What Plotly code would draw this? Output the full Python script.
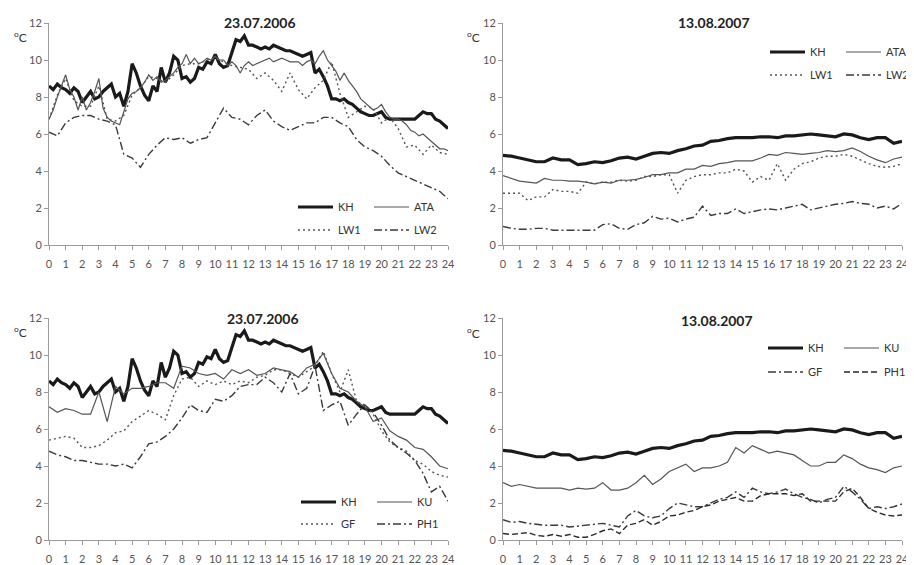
import plotly.graph_objects as go

HOURS = [0, 0.5, 1, 1.5, 2, 2.5, 3, 3.5, 4, 4.5, 5, 5.5, 6, 6.5, 7, 7.5, 8, 8.5, 9, 9.5,
         10, 10.5, 11, 11.5, 12, 12.5, 13, 13.5, 14, 14.5, 15, 15.5, 16, 16.5, 17, 17.5,
         18, 18.5, 19, 19.5, 20, 20.5, 21, 21.5, 22, 22.5, 23, 23.5, 24]
HOURS_Q = [i / 4 for i in range(97)]  # quarter-hour sampling for the most jagged records
TICKS = list(range(25))

# 23.07.2006 (quarter-hour)
KH_0723 = [8.6, 8.4, 8.7, 8.5, 8.4, 8.2, 8.5, 8.3, 7.7, 8.0, 8.3, 7.9, 8.0, 8.3, 8.5, 8.7,
           8.0, 8.2, 7.5, 8.3, 9.8, 9.3, 8.6, 8.1, 7.8, 8.6, 8.3, 9.6, 8.8, 9.3, 10.2, 10.0,
           9.0, 9.1, 8.8, 9.0, 9.6, 9.5, 9.9, 9.8, 10.3, 9.8, 9.6, 9.7, 10.4, 11.1, 11.0, 11.3,
           10.8, 10.8, 10.7, 10.6, 10.7, 10.6, 10.8, 10.7, 10.6, 10.5, 10.5, 10.4, 10.3, 10.2, 10.3, 10.4,
           9.3, 9.5, 9.1, 8.6, 7.9, 7.9, 7.8, 7.9, 7.7, 7.6, 7.4, 7.2, 7.1, 7.0, 7.0, 7.1,
           7.2, 6.9, 6.8, 6.8, 6.8, 6.8, 6.8, 6.8, 6.8, 7.0, 7.2, 7.1, 7.1, 6.8, 6.7, 6.5, 6.3]
ATA_0723 = [6.8, 7.3, 8.0, 8.6, 9.2, 8.4, 8.0, 7.3, 8.0, 7.3, 7.7, 8.3, 9.0, 7.4, 6.9, 6.7,
            6.6, 6.5, 7.2, 7.9, 8.2, 8.3, 8.5, 8.8, 9.2, 8.9, 9.1, 8.8, 8.9, 9.1, 9.3, 9.6,
            9.8, 10.3, 9.8, 10.1, 9.8, 9.9, 10.1, 10.0, 10.2, 10.0, 10.0, 9.7, 9.9, 9.7, 9.3, 9.7,
            9.9, 9.7, 9.8, 9.9, 10.0, 10.1, 9.9, 10.0, 10.1, 10.0, 9.9, 9.9, 9.9, 9.7, 9.9, 10.0,
            9.8, 10.2, 10.5, 10.0, 9.7, 9.4, 8.9, 9.3, 8.9, 8.6, 8.3, 7.9, 7.7, 7.5, 7.3, 7.4,
            7.6, 7.2, 6.9, 6.8, 6.8, 6.7, 6.5, 6.2, 6.1, 5.9, 6.0, 5.8, 5.6, 5.4, 5.2, 5.2, 5.1]
# 23.07.2006 (half-hour)
LW1_0723 = [6.8, 8.1, 9.0, 7.8, 7.5, 7.5, 8.6, 6.8, 6.7, 7.0, 8.1, 8.5, 9.1, 9.0, 8.8, 9.2, 9.7, 9.8, 9.8, 10.0,
            10.1, 9.9, 9.7, 9.6, 9.5, 9.0, 9.3, 8.9, 8.3, 9.3, 8.4, 7.9, 8.5, 8.9, 9.9, 8.2,
            6.9, 7.2, 7.5, 7.4, 6.6, 6.9, 6.3, 5.3, 5.4, 4.9, 5.4, 5.0, 4.9]
LW2_0723 = [6.1, 5.9, 6.6, 6.9, 7.0, 7.0, 6.8, 6.7, 6.5, 4.9, 4.7, 4.2, 4.9, 5.4, 5.8, 5.7, 5.8, 5.5, 5.7, 5.8,
            6.6, 7.4, 6.9, 6.8, 6.5, 7.0, 7.3, 6.7, 6.4, 6.2, 6.4, 6.6, 6.6, 6.9, 6.9, 6.6,
            6.4, 5.7, 5.3, 5.1, 4.8, 4.3, 3.9, 3.7, 3.5, 3.3, 3.1, 2.9, 2.5]
KU_0723 = [7.2, 6.9, 7.1, 7.0, 6.8, 6.8, 8.0, 6.4, 8.3, 7.9, 8.2, 8.2, 8.3, 8.5, 8.5, 8.2, 9.4, 9.3, 9.0, 8.9,
           9.0, 8.7, 9.2, 9.0, 9.2, 8.9, 9.0, 9.3, 9.2, 9.1, 8.8, 9.3, 9.5, 10.1, 9.0, 8.2,
           8.0, 7.5, 7.2, 6.4, 6.6, 5.9, 5.6, 5.4, 5.0, 4.9, 4.5, 4.0, 3.85]
GF_0723 = [5.4, 5.5, 5.6, 5.5, 5.0, 5.0, 5.1, 5.4, 5.8, 5.9, 6.4, 6.7, 7.0, 6.8, 6.5, 7.8, 8.7, 8.8, 8.3, 8.6,
           8.4, 8.6, 8.4, 8.6, 8.5, 8.8, 8.9, 9.2, 9.2, 9.0, 8.8, 9.1, 9.4, 10.2, 9.0, 8.0,
           9.2, 7.5, 7.3, 6.8, 5.9, 5.3, 5.0, 4.8, 4.3, 4.1, 3.7, 3.5, 3.4]
PH1_0723 = [4.8, 4.6, 4.5, 4.3, 4.3, 4.2, 4.1, 4.1, 4.0, 4.1, 3.9, 4.5, 5.2, 5.3, 5.6, 6.0, 6.6, 7.3, 7.0, 6.9,
            7.6, 7.5, 7.8, 8.3, 8.4, 8.4, 8.8, 8.5, 8.0, 9.0, 7.9, 8.2, 9.4, 7.0, 7.3, 7.5,
            6.2, 6.8, 7.3, 6.9, 6.2, 5.4, 5.0, 4.7, 4.3, 3.6, 2.6, 2.9, 2.1]

# 13.08.2007 (half-hour)
KH_0813 = [4.85, 4.8, 4.7, 4.6, 4.5, 4.5, 4.7, 4.6, 4.6, 4.35, 4.4, 4.5, 4.45, 4.55, 4.7, 4.75, 4.65, 4.8, 4.95, 5.0,
           4.95, 5.1, 5.2, 5.35, 5.4, 5.6, 5.65, 5.75, 5.8, 5.8, 5.8, 5.85, 5.85, 5.8, 5.9, 5.9,
           5.95, 6.0, 5.95, 5.9, 5.85, 6.0, 5.95, 5.8, 5.7, 5.8, 5.8, 5.5, 5.6]
ATA_0813 = [3.75, 3.6, 3.45, 3.4, 3.35, 3.6, 3.5, 3.5, 3.45, 3.45, 3.4, 3.3, 3.4, 3.35, 3.5, 3.5, 3.55, 3.65, 3.8, 3.8,
            3.9, 3.9, 4.1, 4.1, 4.3, 4.25, 4.4, 4.45, 4.55, 4.55, 4.55, 4.7, 4.9, 4.85, 5.0, 4.95,
            4.9, 4.95, 5.0, 5.1, 5.05, 5.1, 5.25, 5.05, 4.8, 4.6, 4.45, 4.65, 4.75]
LW1_0813 = [2.8, 2.8, 2.8, 2.4, 2.6, 2.6, 3.0, 2.9, 2.9, 2.8, 3.4, 3.3, 3.4, 3.4, 3.5, 3.45, 3.5, 3.7, 3.7, 3.8,
            3.8, 2.8, 3.5, 3.7, 3.8, 3.8, 3.9, 3.9, 4.1, 4.0, 3.4, 3.7, 3.5, 4.4, 3.5, 4.1,
            4.4, 4.5, 4.7, 4.8, 4.8, 4.9, 4.8, 4.6, 4.4, 4.25, 4.2, 4.25, 4.4]
LW2_0813 = [1.0, 0.9, 0.85, 0.85, 0.9, 0.9, 0.8, 0.8, 0.8, 0.8, 0.8, 0.8, 1.1, 1.15, 0.9, 0.85, 1.1, 1.2, 1.55, 1.4,
            1.45, 1.25, 1.4, 1.5, 2.1, 1.6, 1.7, 1.7, 1.95, 1.7, 1.8, 1.9, 1.95, 1.9, 2.0, 2.1,
            2.2, 1.9, 2.0, 2.1, 2.2, 2.25, 2.35, 2.25, 2.2, 2.0, 2.1, 1.95, 2.25]
KU_0813 = [3.1, 2.9, 3.0, 2.9, 2.8, 2.8, 2.8, 2.8, 2.7, 2.8, 2.75, 2.8, 3.1, 2.7, 2.7, 2.8, 3.1, 3.5, 3.0, 3.3,
           3.7, 3.9, 4.1, 3.7, 3.9, 3.9, 4.0, 4.2, 5.0, 4.7, 5.1, 4.9, 4.7, 4.8, 4.7, 4.6,
           4.3, 4.0, 4.0, 4.2, 4.2, 4.6, 4.4, 4.1, 3.9, 3.8, 3.65, 3.9, 4.0]
GF_0813 = [1.1, 0.95, 1.0, 0.9, 0.85, 0.8, 0.8, 0.8, 0.7, 0.75, 0.8, 0.85, 0.9, 0.8, 0.7, 1.3, 1.6, 1.3, 1.2, 1.3,
           1.7, 2.0, 1.9, 1.8, 1.8, 2.0, 2.2, 2.3, 2.6, 2.3, 2.8, 2.6, 2.5, 2.6, 2.75, 2.5,
           2.3, 2.2, 2.0, 2.2, 2.3, 2.9, 2.6, 2.2, 1.7, 1.8, 1.7, 1.8, 1.95]
PH1_0813 = [0.35, 0.3, 0.35, 0.4, 0.25, 0.2, 0.3, 0.2, 0.3, 0.15, 0.15, 0.3, 0.5, 0.6, 0.35, 0.8, 0.9, 1.1, 0.8, 1.0,
            1.3, 1.35, 1.5, 1.6, 1.8, 1.9, 2.1, 2.2, 2.3, 2.1, 2.1, 2.4, 2.5, 2.5, 2.5, 2.4,
            2.5, 2.1, 2.1, 2.1, 2.1, 2.6, 2.8, 2.3, 1.7, 1.5, 1.35, 1.3, 1.35]

TITLES = ["23.07.2006", "13.08.2007", "23.07.2006", "13.08.2007"]

FONT = "Lato, 'Open Sans', sans-serif"
# the page body has an 8px margin, so the figure is drawn 8px in from the window corner
OFF = 8
W, H = 914 - OFF, 565 - OFF


def fx(px):
    return (px - OFF) / W


def fy(py):
    return 1 - (py - OFF) / H


STY = {
    "thick": dict(color="#1a1a1a", width=3.2),
    "thin": dict(color="#555555", width=1.2),
    "dot": dict(color="#555555", width=1.4, dash="2px,3px"),
    "dashdot": dict(color="#3a3a3a", width=1.4, dash="8px,3px,2px,3px"),
    "dash": dict(color="#2a2a2a", width=1.4, dash="6px,3px"),
}

panels = [
    ("x", "y", [("KH", HOURS_Q, KH_0723, "thick"), ("ATA", HOURS_Q, ATA_0723, "thin"),
                ("LW1", HOURS, LW1_0723, "dot"), ("LW2", HOURS, LW2_0723, "dashdot")], (207, 230), 293),
    ("x2", "y2", [("KH", HOURS, KH_0813, "thick"), ("ATA", HOURS, ATA_0813, "thin"),
                  ("LW1", HOURS, LW1_0813, "dot"), ("LW2", HOURS, LW2_0813, "dashdot")], (52, 75), 765),
    ("x3", "y3", [("KH", HOURS_Q, KH_0723, "thick"), ("KU", HOURS, KU_0723, "thin"),
                  ("GF", HOURS, GF_0723, "dot"), ("PH1", HOURS, PH1_0723, "dashdot")], (502, 524), 296),
    ("x4", "y4", [("KH", HOURS, KH_0813, "thick"), ("KU", HOURS, KU_0813, "thin"),
                  ("GF", HOURS, GF_0813, "dashdot"), ("PH1", HOURS, PH1_0813, "dash")], (348, 372), 763),
]

fig = go.Figure()
layout_legends = {}
lg = 1
for xa, ya, series, rows, lx in panels:
    for i, (name, hrs, data, st) in enumerate(series):
        row = i // 2
        legname = "legend" if (lg + row) == 1 else f"legend{lg + row}"
        fig.add_trace(go.Scatter(x=hrs, y=data, mode="lines", name=name,
                                 line=STY[st], xaxis=xa, yaxis=ya,
                                 legend=legname, showlegend=True))
    for r in range(2):
        key = "legend" if (lg + r) == 1 else f"legend{lg + r}"
        layout_legends[key] = dict(
            x=fx(lx), y=fy(rows[r]), xanchor="left", yanchor="middle",
            orientation="h", bgcolor="rgba(0,0,0,0)", borderwidth=0,
            font=dict(family=FONT, size=11, color="#333"),
            itemwidth=35, entrywidth=26, entrywidthmode="pixels",
            itemclick=False, itemdoubleclick=False,
        )
    lg += 2

xdom_l = [fx(49), fx(448)]
xdom_r = [fx(503), fx(902)]
ydom_t = [fy(245), fy(23)]
ydom_b = [fy(540), fy(318)]

axis_common = dict(showline=True, linecolor="#9a9a9a", linewidth=1, showgrid=False, zeroline=False,
                   ticks="outside", ticklen=4, tickcolor="#9a9a9a", automargin=False,
                   tickfont=dict(family=FONT, size=11, color="#555"))

doms = [(xdom_l, ydom_t), (xdom_r, ydom_t), (xdom_l, ydom_b), (xdom_r, ydom_b)]
for k, (xd, yd) in enumerate(doms):
    sx = "" if k == 0 else str(k + 1)
    fig.layout["xaxis" + sx] = dict(axis_common, domain=xd, range=[0, 24], tickvals=TICKS,
                                    anchor="y" + sx, ticklabelstandoff=5)
    fig.layout["yaxis" + sx] = dict(axis_common, domain=yd, range=[0, 12], dtick=2,
                                    anchor="x" + sx)

ann = []
title_pos = [(260, 22), (714, 22), (263, 318), (717, 320)]
for t, (px, py) in zip(TITLES, title_pos):
    ann.append(dict(text="<b>%s</b>" % t, x=fx(px), y=fy(py), xref="paper", yref="paper",
                    xanchor="center", yanchor="middle", showarrow=False,
                    font=dict(family=FONT, size=14, color="#222")))
unit_pos = [(20, 37), (474, 37), (20, 332), (474, 333)]
for px, py in unit_pos:
    ann.append(dict(text="<sup>o</sup>C", x=fx(px), y=fy(py), xref="paper", yref="paper",
                    xanchor="center", yanchor="middle", showarrow=False,
                    font=dict(family=FONT, size=12, color="#333")))

fig.update_layout(width=W, height=H, margin=dict(l=0, r=0, t=0, b=0, autoexpand=False),
                  paper_bgcolor="white", plot_bgcolor="white",
                  annotations=ann, showlegend=True, **layout_legends)

fig.write_html("out.html")
